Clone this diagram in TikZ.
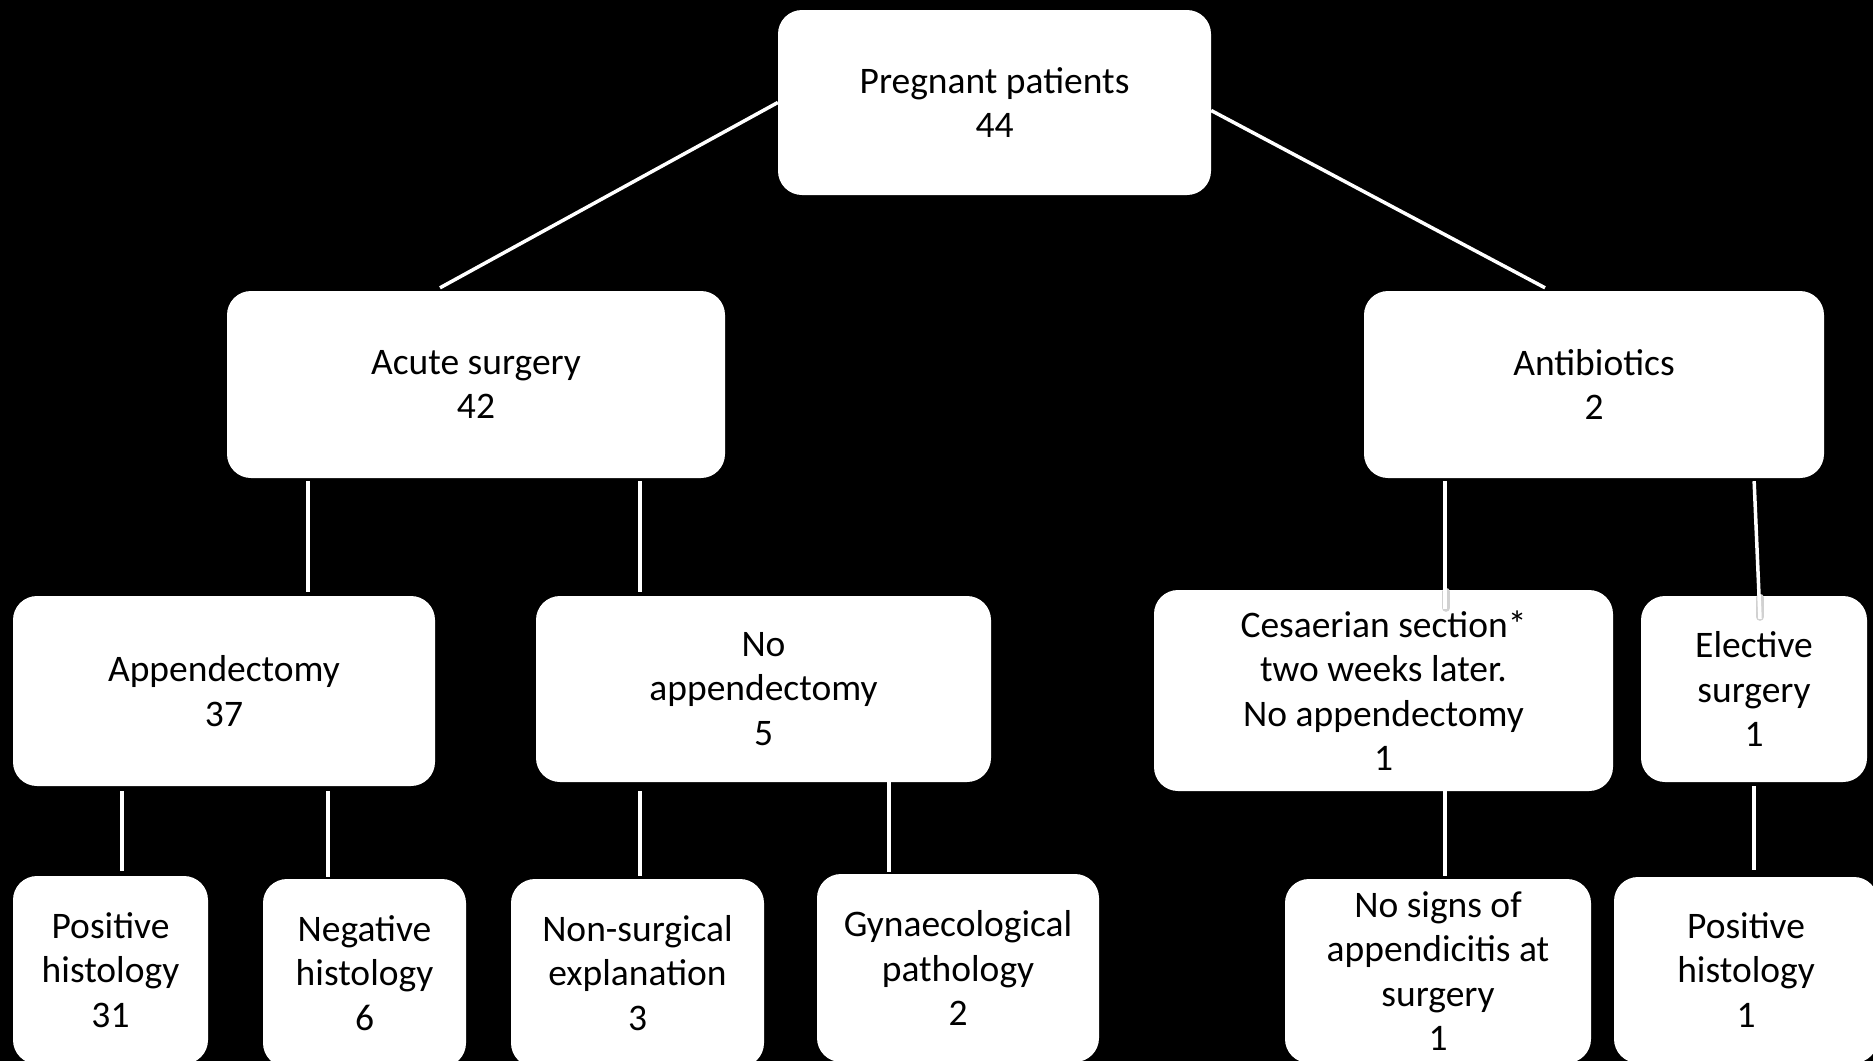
\documentclass[tikz,border=0pt]{standalone}
\usepackage{fontspec}
\setmainfont{Carlito}
\usepackage{tikz}

\begin{document}
\begin{tikzpicture}[x=1pt, y=-1pt,
  box/.style={fill=white, rounded corners=24pt, align=center, inner sep=0pt,
    font=\fontsize{37.5}{44.5}\selectfont},
  link/.style={draw=white, line width=3.5pt},
  shade/.style={draw=black!18, line width=8pt, line cap=round}]

\useasboundingbox (0,0) rectangle (1873,1061);
\clip (0,0) rectangle (1873,1061);
\fill[black] (0,0) rectangle (1873,1061);

\node[box, minimum width=433, minimum height=185] (root) at (994.5,102.5) {Pregnant patients\\44};

\node[box, minimum width=498, minimum height=187] (acute) at (476,384.5) {Acute surgery\\42};
\node[box, minimum width=460, minimum height=187] (anti) at (1594,384.5) {Antibiotics\\2};

\node[box, minimum width=422, minimum height=190] (appx) at (224,691) {Appendectomy\\37};
\node[box, minimum width=455, minimum height=186] (noappx) at (763.5,689) {No\\appendectomy\\5};
\node[box, minimum width=459, minimum height=201] (cesar) at (1383.5,690.5) {Cesaerian section*\\two weeks later.\\No appendectomy\\1};
\node[box, minimum width=226, minimum height=186] (elect) at (1754,689) {Elective\\surgery\\1};

\node[box, minimum width=195, minimum height=188] (poshist) at (110.5,970) {Positive\\histology\\31};
\node[box, minimum width=203, minimum height=188] (neghist) at (364.5,973) {Negative\\histology\\6};
\node[box, minimum width=253, minimum height=188] (nonsurg) at (637.5,973) {Non-surgical\\explanation\\3};
\node[box, minimum width=282, minimum height=188] (gynae) at (958,968) {Gynaecological\\pathology\\2};
\node[box, minimum width=306, minimum height=184] (nosigns) at (1438,971) {No signs of\\appendicitis at\\surgery\\1};
\node[box, minimum width=264, minimum height=186] (poshistr) at (1746,970) {Positive\\histology\\1};

\draw[link] (root.west) -- ([xshift=-36pt,yshift=3pt]acute.north);
\draw[link] ([yshift=-8pt]root.east) -- ([xshift=-49pt,yshift=3pt]anti.north);

\draw[link, shorten <=3pt, shorten >=4pt] ([xshift=-168pt]acute.south) -- ([xshift=-168pt]acute.south |- appx.north);
\draw[link, shorten <=3pt, shorten >=4pt] ([xshift=164pt]acute.south) -- ([xshift=164pt]acute.south |- noappx.north);

% the two lines into the right boxes run over the box top
\draw[shade] ([xshift=-149pt]anti.south |- cesar.north) ++(1,2) -- ++(0,16);
\draw[link, shorten <=3pt] ([xshift=-149pt]anti.south) coordinate (c1) -- (c1 |- cesar.north) -- ++(0,19);
\draw[shade] ([xshift=5pt]elect.north) ++(1,2) -- ++(0,19);
\draw[link, shorten <=3pt] ([xshift=160pt]anti.south) -- ([xshift=6pt,yshift=-23pt]elect.north);

\draw[link, shorten <=5pt, shorten >=5pt] ([xshift=-102pt]appx.south) -- ([xshift=-102pt]appx.south |- poshist.north);
\draw[link, shorten <=5pt, shorten >=2pt] ([xshift=104pt]appx.south) -- ([xshift=104pt]appx.south |- neghist.north);
\draw[link, shorten <=9pt, shorten >=3pt] ([xshift=-123.5pt]noappx.south) -- ([xshift=-123.5pt]noappx.south |- nonsurg.north);
\draw[link, shorten >=2pt] ([xshift=125.5pt]noappx.south) -- ([xshift=125.5pt]noappx.south |- gynae.north);
\draw[link, shorten >=3pt] ([xshift=61.5pt]cesar.south) -- ([xshift=61.5pt]cesar.south |- nosigns.north);
\draw[link, shorten <=4pt, shorten >=7pt] (elect.south) -- (elect.south |- poshistr.north);

\end{tikzpicture}
\end{document}
